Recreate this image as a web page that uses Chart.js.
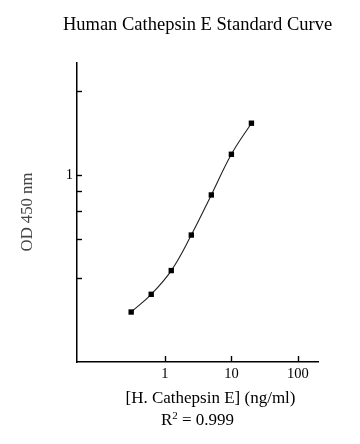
<!DOCTYPE html>
<html>
<head>
<meta charset="utf-8">
<script src="https://cdn.jsdelivr.net/npm/chart.js@4/dist/chart.umd.min.js"></script>
<style>
html,body{margin:0;padding:0;background:#fff;}
#wrap{width:360px;height:444px;position:relative;}
</style>
</head>
<body>
<div id="wrap"><canvas id="c" width="360" height="444"></canvas></div>
<script>
// ---- data ----
const concentrations = [0.3125, 0.625, 1.25, 2.5, 5, 10, 20];   // ng/ml
const odValues = [0.325, 0.376, 0.457, 0.612, 0.851, 1.189, 1.535]; // OD 450 nm
const xTickValues = [1, 10, 100];
const yTickValues = [2, 1, 0.877, 0.744, 0.594, 0.43];
const yLabelledTicks = [1];
const titleText = 'Human Cathepsin E Standard Curve';
const xTitleText = '[H. Cathepsin E] (ng/ml)';
const yTitleText = 'OD 450 nm';
const r2Text = '0.999';

const SERIF = "'Liberation Serif', 'Times New Roman', serif";

const points = concentrations.map((x, i) => ({x: x, y: odValues[i]}));

const inwardTicks = {
  id: 'inwardTicks',
  afterDatasetsDraw(chart) {
    const ctx = chart.ctx;
    const xs = chart.scales.x, ys = chart.scales.y;
    const area = chart.chartArea;
    ctx.save();
    ctx.strokeStyle = '#000';
    ctx.lineWidth = 1.4;
    xTickValues.forEach(v => {
      const px = Math.round(xs.getPixelForValue(v)) + 0.5;
      ctx.beginPath();
      ctx.moveTo(px, area.bottom);
      ctx.lineTo(px, area.bottom - 6);
      ctx.stroke();
    });
    yTickValues.forEach(v => {
      const py = Math.round(ys.getPixelForValue(v)) + 0.5;
      ctx.beginPath();
      ctx.moveTo(area.left, py);
      ctx.lineTo(area.left + 5, py);
      ctx.stroke();
    });
    ctx.restore();
  }
};

const texts = {
  id: 'texts',
  afterDraw(chart) {
    const ctx = chart.ctx;
    const area = chart.chartArea;
    const cx = (area.left + area.right) / 2;
    ctx.save();
    ctx.fillStyle = '#000';
    ctx.textBaseline = 'alphabetic';
    // title
    ctx.font = '18.5px ' + SERIF;
    ctx.textAlign = 'center';
    ctx.fillText(titleText, cx, 30);
    // x title
    ctx.font = '17px ' + SERIF;
    ctx.fillText(xTitleText, cx + 13, 403);
    // R^2 line
    const partR = 'R', partSup = '2', partRest = ' = ' + r2Text;
    ctx.font = '17px ' + SERIF;
    const wR = ctx.measureText(partR).width;
    const wRest = ctx.measureText(partRest).width;
    ctx.font = '11px ' + SERIF;
    const wSup = ctx.measureText(partSup).width;
    const total = wR + wSup + wRest;
    let x0 = cx - total / 2;
    ctx.textAlign = 'left';
    ctx.font = '17px ' + SERIF;
    ctx.fillText(partR, x0, 425);
    ctx.font = '11px ' + SERIF;
    ctx.fillText(partSup, x0 + wR, 419);
    ctx.font = '17px ' + SERIF;
    ctx.fillText(partRest, x0 + wR + wSup, 425);
    // y title
    ctx.save();
    ctx.translate(32, 212);
    ctx.rotate(-Math.PI / 2);
    ctx.textAlign = 'center';
    ctx.fillStyle = '#444';
    ctx.font = '16.7px ' + SERIF;
    ctx.fillText(yTitleText, 0, 0);
    ctx.restore();
    ctx.restore();
  }
};

new Chart(document.getElementById('c'), {
  type: 'line',
  data: {
    datasets: [{
      data: points,
      borderColor: '#222',
      borderWidth: 1.1,
      backgroundColor: '#000',
      pointStyle: 'rect',
      pointRadius: 3.8,
      pointBorderWidth: 0,
      pointBackgroundColor: '#000',
      tension: 0.4,
      fill: false
    }]
  },
  options: {
    responsive: false,
    animation: false,
    devicePixelRatio: 1,
    layout: {padding: {top: 63, right: 42, bottom: 0, left: 0}},
    plugins: {legend: {display: false}, title: {display: false}, tooltip: {enabled: false}},
    scales: {
      x: {
        type: 'logarithmic',
        min: 0.048,
        max: 200,
        afterBuildTicks(scale) { scale.ticks = xTickValues.map(v => ({value: v})); },
        afterFit(scale) { scale.height = 82; },
        grid: {drawOnChartArea: false, drawTicks: false},
        border: {display: true, color: '#000', width: 1.5},
        ticks: {
          autoSkip: false,
          maxRotation: 0,
          padding: 3,
          color: '#000',
          font: {family: SERIF, size: 14.5},
          callback: (v) => String(v)
        }
      },
      y: {
        type: 'logarithmic',
        min: 0.2155,
        max: 2.518,
        afterBuildTicks(scale) { scale.ticks = yTickValues.map(v => ({value: v})); },
        afterFit(scale) { scale.width = 77; },
        grid: {drawOnChartArea: false, drawTicks: false},
        border: {display: true, color: '#000', width: 1.5},
        ticks: {
          autoSkip: false,
          padding: 4,
          color: '#000',
          font: {family: SERIF, size: 14.5},
          callback: (v) => yLabelledTicks.includes(v) ? String(v) : ''
        }
      }
    }
  },
  plugins: [inwardTicks, texts]
});
</script>
</body>
</html>
